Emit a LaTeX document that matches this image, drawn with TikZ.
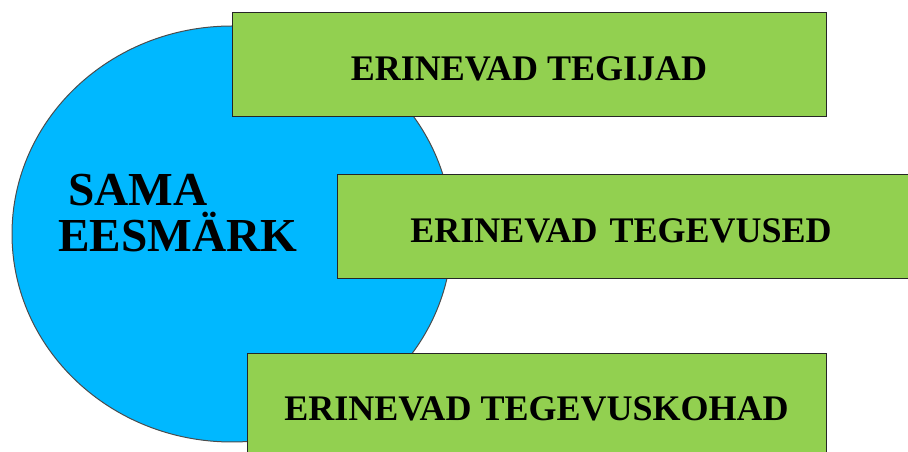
\documentclass[tikz,border=0pt]{standalone}
\usepackage{fontspec}
\setmainfont{Liberation Serif}
\usetikzlibrary{shapes.geometric}
\definecolor{goalblue}{RGB}{0,184,255}
\definecolor{boxgreen}{RGB}{146,208,80}
\tikzset{
  greenbox/.style={draw=black!85, fill=boxgreen, line width=0.75pt, inner sep=0pt,
    font=\fontsize{27}{30}\selectfont\bfseries, text height=24pt, text depth=0pt},
}
\begin{document}
\begin{tikzpicture}[x=0.75pt,y=0.75pt,yscale=-1,xscale=1]
\useasboundingbox (0,0) rectangle (908,452);

%Shape: Ellipse
\node (ring) [ellipse, draw=black!70, fill=goalblue, line width=0.75pt, inner sep=0pt,
  minimum width=330pt, minimum height=312pt] at (232,234) {};
% Text Node
\node (goal) [align=left, inner sep=0pt, font=\fontsize{35.5}{34}\selectfont\bfseries] at (178,213)
  {\hspace{7.5pt}SAMA\\EESMÄRK};

%Shape: Rectangle
\node (makers) [greenbox, minimum width=445.5pt, minimum height=78pt] at (529,64.5) {ERINEVAD TEGIJAD};
%Shape: Rectangle (runs off the right edge)
\node (acts) [greenbox, text width=438pt, align=center, minimum height=78pt] at (629,227)
  {\hspace*{-12pt}ERINEVAD TEGEVUSED};
%Shape: Rectangle
\node (places) [greenbox, minimum width=434.25pt, minimum height=76.5pt] at (536.5,405) {ERINEVAD TEGEVUSKOHAD};

\end{tikzpicture}
\end{document}
